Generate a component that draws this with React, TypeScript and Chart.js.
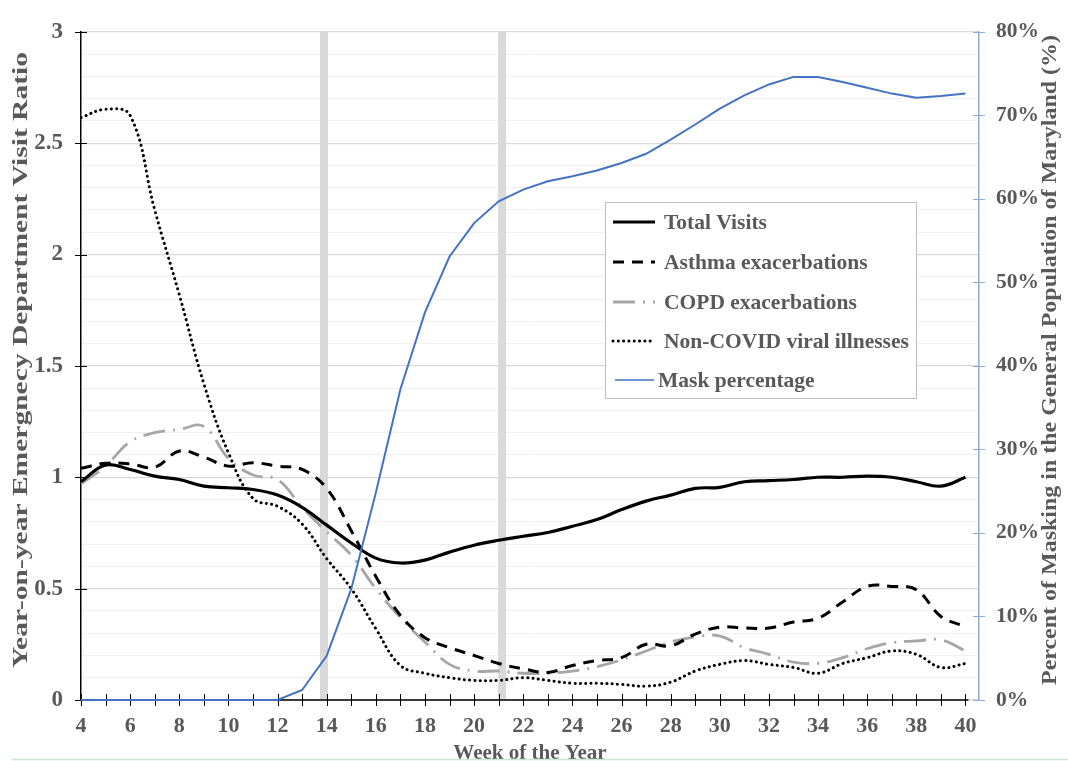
import React, { useEffect, useRef } from 'react';
import { Chart, registerables } from 'chart.js';

Chart.register(...registerables);

// ---- data ----
const weeks = [4, 5, 6, 7, 8, 9, 10, 11, 12, 13, 14, 15, 16, 17, 18, 19, 20, 21, 22, 23, 24, 25, 26, 27, 28, 29, 30, 31, 32, 33, 34, 35, 36, 37, 38, 39, 40];

const totalVisits = [0.98, 1.055, 1.035, 1.005, 0.99, 0.96, 0.953, 0.945, 0.92, 0.865, 0.785, 0.705, 0.637, 0.615, 0.628, 0.664, 0.695, 0.717, 0.735, 0.752, 0.78, 0.81, 0.855, 0.893, 0.92, 0.95, 0.955, 0.98, 0.985, 0.99, 1.0, 1.0, 1.005, 1.0, 0.98, 0.96, 1.0];

const asthma = [1.04, 1.063, 1.06, 1.045, 1.118, 1.09, 1.05, 1.065, 1.05, 1.035, 0.95, 0.76, 0.555, 0.38, 0.28, 0.235, 0.2, 0.164, 0.14, 0.124, 0.155, 0.177, 0.19, 0.25, 0.243, 0.296, 0.327, 0.323, 0.323, 0.35, 0.367, 0.44, 0.51, 0.51, 0.495, 0.375, 0.33];

const copd = [0.97, 1.05, 1.16, 1.2, 1.215, 1.228, 1.085, 1.01, 0.99, 0.865, 0.755, 0.65, 0.5, 0.37, 0.26, 0.16, 0.13, 0.13, 0.12, 0.12, 0.13, 0.15, 0.18, 0.22, 0.26, 0.283, 0.287, 0.235, 0.205, 0.17, 0.165, 0.19, 0.23, 0.257, 0.265, 0.27, 0.22];

const nonCovid = [2.615, 2.652, 2.625, 2.2, 1.82, 1.42, 1.11, 0.905, 0.87, 0.79, 0.635, 0.5, 0.32, 0.155, 0.12, 0.1, 0.088, 0.088, 0.1, 0.088, 0.075, 0.075, 0.07, 0.062, 0.08, 0.13, 0.16, 0.177, 0.16, 0.146, 0.12, 0.164, 0.19, 0.22, 0.205, 0.146, 0.164];

const maskPct = [0, 0, 0, 0, 0, 0, 0, 0, 0, 1.2, 5.3, 13.3, 24.8, 37.2, 46.4, 53.1, 57.1, 59.7, 61.1, 62.1, 62.7, 63.4, 64.3, 65.4, 67.1, 68.9, 70.8, 72.4, 73.7, 74.6, 74.6, 74.0, 73.3, 72.6, 72.1, 72.3, 72.6];

const bandWeeks = [13.89, 21.14];
const leftMajorTicks = [0, 0.5, 1, 1.5, 2, 2.5, 3];
const rightTicks = [0, 10, 20, 30, 40, 50, 60, 70, 80];

const seriesNames = ['Total Visits', 'Asthma exacerbations', 'COPD exacerbations', 'Non-COVID viral illnesses', 'Mask percentage'];
const leftTitle = 'Year-on-year Emergnecy Department Visit Ratio';
const rightTitle = 'Percent of Masking in the General Population of Maryland (%)';
const xTitle = 'Week of the Year';

const SERIF = "'Liberation Serif', 'Times New Roman', serif";
const TEXT_GRAY = '#595959';

function drawStretched(ctx: CanvasRenderingContext2D, text: string, cx: number, cy: number, len: number, font: string, color: string, rotate: boolean) {
  ctx.save();
  ctx.font = font;
  ctx.fillStyle = color;
  ctx.textAlign = 'center';
  ctx.textBaseline = 'middle';
  ctx.translate(cx, cy);
  if (rotate) ctx.rotate(-Math.PI / 2);
  const w = ctx.measureText(text).width;
  ctx.scale(len / w, 1);
  ctx.fillText(text, 0, 0);
  ctx.restore();
}

export default function App() {
  const ref = useRef<HTMLCanvasElement | null>(null);

  useEffect(() => {
    document.body.style.margin = '0';
    const canvas = ref.current;
    if (!canvas) return;
    const pts = (arr: number[]) => weeks.map((w, i) => ({ x: w, y: arr[i] }));

    const deco = {
      id: 'deco',
      beforeDatasetsDraw(chart: any) {
        const ctx: CanvasRenderingContext2D = chart.ctx;
        const { top, bottom } = chart.chartArea;
        const xs = chart.scales.x;
        ctx.save();
        // vertical gray bands
        ctx.fillStyle = '#d9d9d9';
        bandWeeks.forEach((w) => {
          const px = xs.getPixelForValue(w);
          ctx.fillRect(px - 4, top, 8, bottom - top);
        });
        // x axis line + crossing tick marks
        ctx.strokeStyle = '#000';
        ctx.lineWidth = 1.5;
        ctx.beginPath();
        ctx.moveTo(xs.getPixelForValue(weeks[0]), bottom);
        ctx.lineTo(xs.getPixelForValue(weeks[weeks.length - 1]) + 3, bottom);
        ctx.stroke();
        ctx.lineWidth = 1;
        ctx.beginPath();
        weeks.forEach((w) => {
          const px = Math.round(xs.getPixelForValue(w)) + 0.5;
          ctx.moveTo(px, bottom - 6);
          ctx.lineTo(px, bottom + 6);
        });
        ctx.stroke();
        // left axis major tick marks
        const ys = chart.scales.y;
        ctx.lineWidth = 1.2;
        ctx.beginPath();
        leftMajorTicks.forEach((v) => {
          const py = Math.round(ys.getPixelForValue(v)) + 0.5;
          ctx.moveTo(ys.right - 6, py);
          ctx.lineTo(ys.right + 6, py);
        });
        ctx.stroke();
        ctx.restore();
      },
      afterDraw(chart: any) {
        const ctx: CanvasRenderingContext2D = chart.ctx;
        const y1 = chart.scales.y1;
        ctx.save();
        // right axis tick marks
        ctx.strokeStyle = '#8faadc';
        ctx.lineWidth = 1;
        ctx.beginPath();
        rightTicks.forEach((v) => {
          const py = Math.round(y1.getPixelForValue(v)) + 0.5;
          ctx.moveTo(y1.left - 6, py);
          ctx.lineTo(y1.left + 6, py);
        });
        ctx.stroke();

        // legend
        const lx = 605.5, ly = 202.5, lw = 311, lh = 196;
        ctx.fillStyle = '#ffffff';
        ctx.fillRect(lx, ly, lw, lh);
        ctx.strokeStyle = '#bfbfbf';
        ctx.lineWidth = 1;
        ctx.strokeRect(lx, ly, lw, lh);
        const rowsY = [222, 262, 302, 341, 380];
        chart.data.datasets.forEach((ds: any, i: number) => {
          const yy = rowsY[i];
          ctx.save();
          ctx.strokeStyle = ds.borderColor;
          ctx.lineWidth = i === 4 ? 1.4 : ds.borderWidth;
          ctx.setLineDash(ds.borderDash || []);
          ctx.lineCap = ds.borderCapStyle || 'butt';
          ctx.beginPath();
          const x0 = i === 4 ? 615 : 613;
          const x1 = i === 4 ? 654 : 655;
          ctx.moveTo(x0, yy);
          ctx.lineTo(x1, yy);
          ctx.stroke();
          ctx.restore();
          ctx.fillStyle = TEXT_GRAY;
          ctx.font = `bold 21.5px ${SERIF}`;
          ctx.textAlign = 'left';
          ctx.textBaseline = 'middle';
          ctx.fillText(ds.label, i === 4 ? 658 : 664, yy + 1);
        });

        // titles
        drawStretched(ctx, leftTitle, 21, 360, 616, `bold 22px ${SERIF}`, TEXT_GRAY, true);
        drawStretched(ctx, rightTitle, 1051, 360, 650, `bold 21px ${SERIF}`, TEXT_GRAY, true);
        ctx.font = `bold 21px ${SERIF}`;
        ctx.fillStyle = TEXT_GRAY;
        ctx.textAlign = 'center';
        ctx.textBaseline = 'alphabetic';
        ctx.fillText(xTitle, 530, 759);

        // bottom page rule
        ctx.strokeStyle = '#c8e8d6';
        ctx.lineWidth = 1.5;
        ctx.beginPath();
        ctx.moveTo(12, 759.5);
        ctx.lineTo(1068, 759.5);
        ctx.stroke();
        ctx.restore();
      },
    };

    const chart = new Chart(canvas, {
      type: 'line',
      data: {
        datasets: [
          { label: seriesNames[0], data: pts(totalVisits), borderColor: '#000000', borderWidth: 3.2, tension: 0.4, pointRadius: 0, yAxisID: 'y' },
          { label: seriesNames[1], data: pts(asthma), borderColor: '#000000', borderWidth: 3, borderDash: [11, 8], tension: 0.4, pointRadius: 0, yAxisID: 'y' },
          { label: seriesNames[2], data: pts(copd), borderColor: '#a6a6a6', borderWidth: 2.8, borderDash: [22, 8, 2, 8], tension: 0.4, pointRadius: 0, yAxisID: 'y' },
          { label: seriesNames[3], data: pts(nonCovid), borderColor: '#000000', borderWidth: 3, borderDash: [0.1, 5.2], borderCapStyle: 'round', tension: 0.4, pointRadius: 0, yAxisID: 'y' },
          { label: seriesNames[4], data: pts(maskPct), borderColor: '#4472c4', borderWidth: 2, tension: 0, pointRadius: 0, yAxisID: 'y1', order: -1, clip: 4 },
        ],
      },
      options: {
        animation: false,
        responsive: true,
        maintainAspectRatio: false,
        layout: { padding: { top: 22, left: 0, right: 0, bottom: 0 } },
        plugins: { legend: { display: false }, tooltip: { enabled: false } },
        scales: {
          x: {
            type: 'linear',
            min: 4,
            max: 40.55,
            border: { display: false },
            grid: { drawOnChartArea: false, drawTicks: false },
            afterBuildTicks: (s: any) => { s.ticks = weeks.map((v) => ({ value: v })); },
            ticks: {
              autoSkip: false,
              maxRotation: 0,
              padding: 13,
              color: TEXT_GRAY,
              font: { family: SERIF, size: 22, weight: 'bold' },
              callback: (v: any) => (Number.isInteger(v) && v % 2 === 0 && v <= 40 ? String(v) : ''),
            },
            afterFit: (s: any) => { s.height = 61; },
          },
          y: {
            position: 'left',
            min: 0,
            max: 3,
            border: { color: '#000000', width: 1.5 },
            grid: {
              drawTicks: false,
              color: (c: any) => (Math.round(c.tick.value * 10) % 5 === 0 ? '#d9d9d9' : '#f0f0f0'),
              lineWidth: (c: any) => (Math.round(c.tick.value * 10) % 5 === 0 ? 1.2 : 1),
            },
            ticks: {
              stepSize: 0.1,
              autoSkip: false,
              padding: 18,
              color: TEXT_GRAY,
              font: { family: SERIF, size: 23, weight: 'bold' },
              callback: (v: any) => (Math.round(v * 10) % 5 === 0 ? String(Math.round(v * 10) / 10) : ''),
            },
            afterFit: (s: any) => { s.width = 81; },
          },
          y1: {
            position: 'right',
            min: 0,
            max: 80,
            border: { color: '#8faadc', width: 1.5 },
            grid: { drawOnChartArea: false, drawTicks: false },
            ticks: {
              stepSize: 10,
              padding: 17,
              color: TEXT_GRAY,
              font: { family: SERIF, size: 21.5, weight: 'bold' },
              callback: (v: any) => `${v}%`,
            },
            afterFit: (s: any) => { s.width = 89; },
          },
        },
      },
      plugins: [deco],
    } as any);

    return () => chart.destroy();
  }, []);

  return (
    <div style={{ width: 1068, height: 761, position: 'relative', background: '#ffffff' }}>
      <canvas ref={ref} />
    </div>
  );
}
